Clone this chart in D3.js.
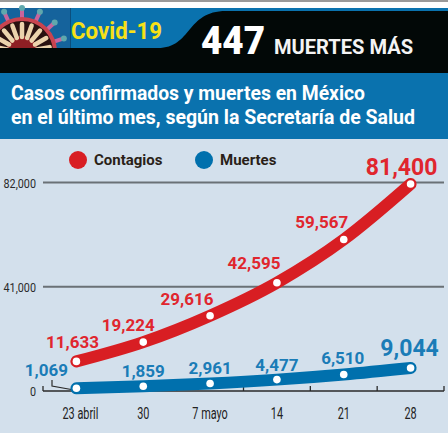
<!DOCTYPE html>
<html lang="es">
<head>
<meta charset="utf-8">
<title>Covid-19 México</title>
<script src="https://cdn.jsdelivr.net/npm/d3@7"></script>
<style>
  html, body { margin: 0; padding: 0; background: #fff; }
  svg { display: block; }
  text { font-family: Roboto, "Noto Sans", sans-serif; }
</style>
</head>
<body>
<div id="chart"></div>
<script>
// datos
const fechas = ["23 abril", "30", "7 mayo", "14", "21", "28"];
const contagios = [11633, 19224, 29616, 42595, 59567, 81400];
const muertes = [1069, 1859, 2961, 4477, 6510, 9044];
const ticksY = [0, 41000, 82000];

// ajustes a mano de las etiquetas: [dx, baseline respecto al punto]
const offContagios = [[-4, -13], [-15, -11], [-23, -11], [-23, -14], [-22, -12], [-9, -9]];
const offMuertes = [[-30, -12], [0, -9], [0, -9], [0, -9], [-1, -10], [-1, -12]];

const W = 448, H = 433;
const colorRojo = "#d81e23", colorAzul = "#0070ad", colorFondo = "#d3e0ec";

const svg = d3.select("#chart").append("svg")
  .attr("width", W)
  .attr("height", H);

// texto angosto: escala solo en x
function textoAngosto(sel, px, py, escala) {
  return sel.attr("transform", (d, i) => `translate(${px(d, i)},${py(d, i)}) scale(${escala},1)`);
}

// ===== Encabezado =====
svg.append("rect").attr("width", W).attr("height", 2).attr("fill", "#9a9a9a");
svg.append("rect").attr("y", 8).attr("width", W).attr("height", 42).attr("fill", "#0a72ae");

// virus (decorativo)
const defs = svg.append("defs");
defs.append("clipPath").attr("id", "clip-virus")
  .append("rect").attr("y", 3).attr("width", 70).attr("height", 46);
const virus = svg.append("g").attr("clip-path", "url(#clip-virus)");
virus.append("rect").attr("y", 8).attr("width", 70).attr("height", 42).attr("fill", "#15639c");
const cx = 22, cy = 52;
d3.range(-72, 100, 24).forEach(a => {
  const r = a * Math.PI / 180;
  const x2 = cx + Math.sin(r) * 44, y2 = cy - Math.cos(r) * 44;
  virus.append("line")
    .attr("x1", cx).attr("y1", cy).attr("x2", x2).attr("y2", y2)
    .attr("stroke", "#c8649c").attr("stroke-width", 4);
  virus.append("circle").attr("cx", x2).attr("cy", y2).attr("r", 3).attr("fill", "#5fa8ad");
});
virus.append("circle").attr("cx", cx).attr("cy", cy).attr("r", 35).attr("fill", "#c9444f");
virus.append("circle").attr("cx", cx).attr("cy", cy).attr("r", 31).attr("fill", "#2a1210");
virus.append("circle").attr("cx", cx).attr("cy", cy).attr("r", 16).attr("fill", "#8e1f24");
d3.range(-100, 101, 20).forEach(a => {
  const r = a * Math.PI / 180;
  virus.append("line")
    .attr("x1", cx + Math.sin(r) * 15).attr("y1", cy - Math.cos(r) * 15)
    .attr("x2", cx + Math.sin(r) * 28).attr("y2", cy - Math.cos(r) * 28)
    .attr("stroke", "#ecd3ac").attr("stroke-width", 4.5).attr("stroke-linecap", "round");
});
svg.append("rect").attr("x", 70).attr("y", 8).attr("width", 1).attr("height", 40).attr("fill", "#0b4f7d");

svg.append("path")
  .attr("d", "M0,48 H158 C192,48 186,11 226,11 H448 V73 H0 Z")
  .attr("fill", "#020807");
svg.append("rect").attr("y", 73).attr("width", W).attr("height", 66).attr("fill", "#0a72ae");
svg.append("rect").attr("y", 139).attr("width", W).attr("height", H - 139).attr("fill", colorFondo);

svg.append("text").attr("x", 71).attr("y", 39)
  .attr("textLength", 91).attr("lengthAdjust", "spacingAndGlyphs")
  .style("font-size", "24px").style("font-weight", 700).attr("fill", "#f7e017")
  .text("Covid-19");
svg.append("text").attr("x", 201).attr("y", 54)
  .attr("textLength", 64).attr("lengthAdjust", "spacingAndGlyphs")
  .style("font-size", "38px").style("font-weight", 900).attr("fill", "#fff")
  .text("447");
svg.append("text").attr("x", 274).attr("y", 54)
  .attr("textLength", 139).attr("lengthAdjust", "spacingAndGlyphs")
  .style("font-size", "19.5px").style("font-weight", 700).attr("fill", "#f4f4f4")
  .text("MUERTES MÁS");
svg.append("text").attr("x", 11).attr("y", 100)
  .attr("textLength", 354).attr("lengthAdjust", "spacingAndGlyphs")
  .style("font-size", "20px").style("font-weight", 700).attr("fill", "#fff")
  .text("Casos confirmados y muertes en México");
svg.append("text").attr("x", 11).attr("y", 124)
  .attr("textLength", 404).attr("lengthAdjust", "spacingAndGlyphs")
  .style("font-size", "20px").style("font-weight", 700).attr("fill", "#fff")
  .text("en el último mes, según la Secretaría de Salud");

// ===== Escalas =====
const x = d3.scaleBand().domain(fechas).range([43, 444]);
const y = d3.scaleLinear().domain([0, 82000]).range([391, 182.5]);
const xc = d => x(d) + x.bandwidth() / 2;

// ===== Rejilla y eje Y =====
svg.append("g").selectAll("line")
  .data(ticksY.filter(d => d > 0))
  .enter().append("line")
    .attr("x1", 43).attr("x2", 444)
    .attr("y1", d => y(d)).attr("y2", d => y(d))
    .attr("stroke", "#6a7176").attr("stroke-width", 2);

svg.append("g").selectAll("text")
  .data(ticksY)
  .enter().append("text")
    .attr("text-anchor", "end")
    .style("font-size", "13.5px")
    .attr("fill", "#2b2b2b")
    .text(d => d === 0 ? "0" : d3.format(",")(d))
    .call(textoAngosto, () => 36, d => y(d) + 5, 0.8);

// ===== Eje X =====
const ejeX = svg.append("g");
ejeX.append("line")
  .attr("x1", 43).attr("x2", 444).attr("y1", y(0)).attr("y2", y(0))
  .attr("stroke", "#2a2a2a").attr("stroke-width", 1.3);
ejeX.selectAll(".tick-x")
  .data(fechas.concat([null]))
  .enter().append("line")
    .attr("class", "tick-x")
    .attr("x1", d => d === null ? 444 : x(d))
    .attr("x2", d => d === null ? 444 : x(d))
    .attr("y1", y(0)).attr("y2", y(0) - 5)
    .attr("stroke", "#2a2a2a").attr("stroke-width", 1.3);
ejeX.selectAll(".lab-x")
  .data(fechas)
  .enter().append("text")
    .attr("class", "lab-x")
    .attr("text-anchor", "middle")
    .style("font-size", "16.5px")
    .attr("fill", "#222")
    .text(d => d)
    .call(textoAngosto, d => xc(d) + (d === "23 abril" ? 4 : 0), () => 419, 0.66);

// linea guia de 1,069
svg.append("path")
  .attr("d", "M52,380 V386 L74,390")
  .attr("fill", "none").attr("stroke", "#2a2a2a").attr("stroke-width", 1.2);

// ===== Lineas =====
const linea = d3.line()
  .x((d, i) => xc(fechas[i]))
  .y(d => y(d))
  .curve(d3.curveMonotoneX);

function dibujaSerie(valores, color, colorTexto, offs) {
  const g = svg.append("g");
  g.append("path")
    .attr("d", linea(valores))
    .attr("fill", "none")
    .attr("stroke", color)
    .attr("stroke-width", 12)
    .attr("stroke-linecap", "round");
  g.selectAll("circle")
    .data(valores)
    .enter().append("circle")
      .attr("cx", (d, i) => xc(fechas[i]))
      .attr("cy", d => y(d))
      .attr("r", 3.8)
      .attr("fill", "#fff");
  g.selectAll("text")
    .data(valores)
    .enter().append("text")
      .attr("x", (d, i) => xc(fechas[i]) + offs[i][0])
      .attr("y", (d, i) => y(d) + offs[i][1])
      .attr("text-anchor", "middle")
      .style("font-size", (d, i) => i === valores.length - 1 ? "23px" : "17px")
      .style("font-weight", 700)
      .attr("fill", colorTexto)
      .text(d => d3.format(",")(d));
}

dibujaSerie(contagios, colorRojo, "#e0262e", offContagios);
dibujaSerie(muertes, colorAzul, "#1a7cb7", offMuertes);

// ===== Leyenda =====
const leyenda = [["Contagios", colorRojo, 78], ["Muertes", colorAzul, 204]];
const itemL = svg.append("g").selectAll("g")
  .data(leyenda)
  .enter().append("g")
    .attr("transform", d => `translate(${d[2]},160)`);
itemL.append("circle").attr("r", 9).attr("fill", d => d[1]);
itemL.append("text")
  .attr("x", 16).attr("y", 5)
  .style("font-size", "15px").style("font-weight", 700)
  .attr("fill", "#2a1f18")
  .text(d => d[0]);
</script>
</body>
</html>
